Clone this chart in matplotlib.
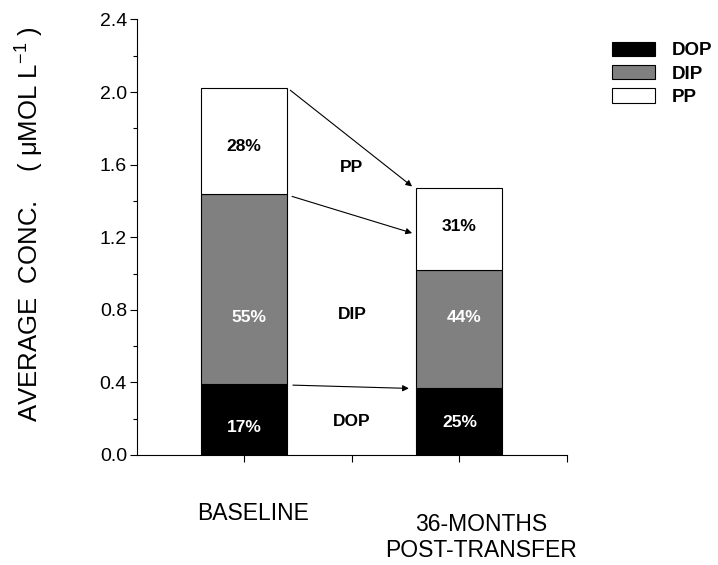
import matplotlib
matplotlib.use("Agg")
import matplotlib.pyplot as plt
import numpy as np

plt.rcParams['font.family'] = ['Liberation Sans', 'DejaVu Sans']
plt.rcParams['mathtext.fontset'] = 'custom'
plt.rcParams['mathtext.rm'] = 'Liberation Sans'
plt.rcParams['mathtext.it'] = 'Liberation Sans:italic'

# data (umol/L)
periods = ["BASELINE", "36-MONTHS\nPOST-TRANSFER"]
dop = [0.39, 0.37]
dip = [1.05, 0.65]
pp = [0.58, 0.45]
dop_pct = ["17%", "25%"]
dip_pct = ["55%", "44%"]
pp_pct = ["28%", "31%"]

# label heights inside the bars
dop_lab_y = [0.15, 0.18]
dip_lab_y = [0.76, 0.76]
pp_lab_y = [1.70, 1.26]

fig = plt.figure(figsize=(7.18, 5.65), dpi=100)
ax = fig.add_axes([0.1904, 0.1947, 0.5993, 0.7708])

x = np.array([1, 2])
w = 0.4
dop = np.array(dop)
dip = np.array(dip)
pp = np.array(pp)

ax.bar(x, dop, w, color='black', edgecolor='black', linewidth=0.8, label='DOP')
ax.bar(x, dip, w, bottom=dop, color='#808080', edgecolor='black', linewidth=0.8, label='DIP')
ax.bar(x, pp, w, bottom=dop + dip, color='white', edgecolor='black', linewidth=0.8, label='PP')

for i in range(2):
    ax.text(x[i], dop_lab_y[i], dop_pct[i], ha='center', va='center',
            fontsize=12.5, fontweight='bold', color='white')
    ax.text(x[i] + 0.02, dip_lab_y[i], dip_pct[i], ha='center', va='center',
            fontsize=12.5, fontweight='bold', color='white')
    ax.text(x[i], pp_lab_y[i], pp_pct[i], ha='center', va='center',
            fontsize=12.5, fontweight='bold', color='black')

# labels between bars
ax.text(1.5, 1.585, "PP", ha='center', va='center', fontsize=12.5, fontweight='bold')
ax.text(1.5, 0.776, "DIP", ha='center', va='center', fontsize=12.5, fontweight='bold')
ax.text(1.5, 0.183, "DOP", ha='center', va='center', fontsize=12.5, fontweight='bold')

arrows = [((1.214, 2.01), (1.78, 1.48)),
          ((1.222, 1.425), (1.78, 1.223)),
          ((1.226, 0.385), (1.765, 0.367))]
for (x0, y0), (x1, y1) in arrows:
    ax.annotate("", xy=(x1, y1), xytext=(x0, y0),
                arrowprops=dict(arrowstyle='-|>', color='black', lw=0.8,
                                mutation_scale=9, shrinkA=0, shrinkB=0))

ax.set_xlim(0.5, 2.5)
ax.set_ylim(0, 2.4)
ax.set_yticks(np.arange(0, 2.41, 0.4))
ax.set_yticks(np.arange(0.2, 2.4, 0.4), minor=True)
ax.set_yticklabels(["%.1f" % v for v in np.arange(0, 2.41, 0.4)], fontsize=14)
ax.set_xticks([1, 1.5, 2, 2.5])
ax.set_xticklabels([])
ax.tick_params(axis='y', which='major', length=5, width=0.8, pad=2)
ax.tick_params(axis='y', which='minor', length=3, width=0.8)
ax.tick_params(axis='x', which='major', length=5, width=0.8)
for s in ['top', 'right']:
    ax.spines[s].set_visible(False)
for s in ['left', 'bottom']:
    ax.spines[s].set_linewidth(0.8)

ax.text(1.04, -0.32, periods[0], ha='center', va='center', fontsize=16.5,
        clip_on=False)
ax.text(2.1, -0.455, periods[1], ha='center', va='center', fontsize=16.5,
        linespacing=1.2, clip_on=False)

fig.text(0.042, 0.6035, "AVERAGE  CONC.    ( μMOL L$^{-1}$ )", rotation=90,
         ha='center', va='center', fontsize=18.5)

fig.legend(loc='upper left', bbox_to_anchor=(0.852, 0.926), frameon=False,
           prop={'weight': 'bold', 'size': 13.5},
           handlelength=2.3, handleheight=0.8, labelspacing=0.3,
           handletextpad=0.9, borderaxespad=0, borderpad=0)

fig.savefig("out.png", dpi=100)
